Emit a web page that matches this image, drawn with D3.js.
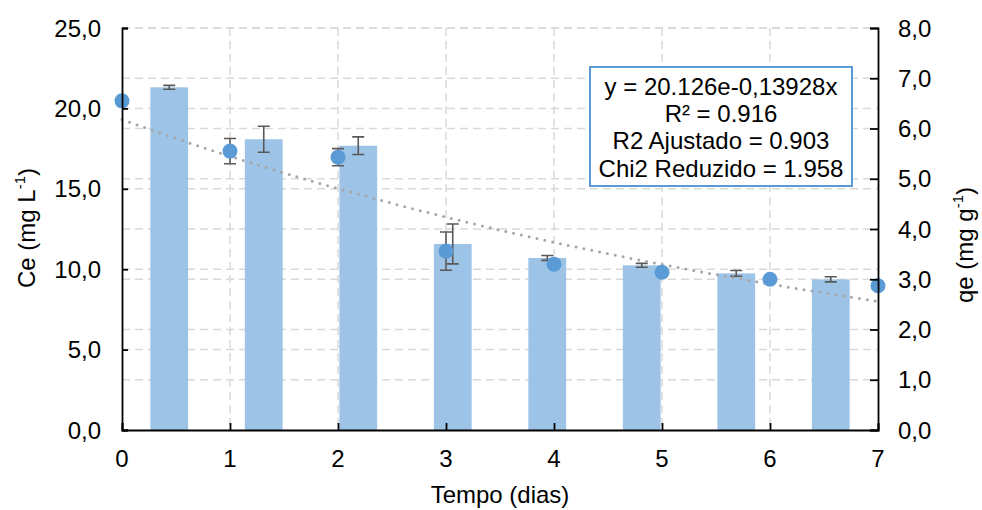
<!DOCTYPE html>
<html lang="pt">
  <head>
    <meta charset="utf-8">
    <title>Ce e qe vs tempo</title>
    <style>
      body { margin: 0; background: #fff; }
      svg { display: block; font-family: "Liberation Sans", Arial, sans-serif; }
    </style>
  </head>
  <body>
    <svg width="982" height="510"></svg>
    <script src="https://d3js.org/d3.v7.min.js"></script>
    <script>
      // data
      const dias = [0, 1, 2, 3, 4, 5, 6, 7];
      const qe = [6.55, 5.55, 5.43, 3.56, 3.30, 3.14, 3.00, 2.87];
      const qeErr = [0, 0.25, 0.17, 0.38, 0, 0, 0, 0];
      const ce = [21.31, 18.08, 17.68, 11.57, 10.70, 10.24, 9.74, 9.37];
      const ceErr = [0.12, 0.81, 0.55, 1.24, 0.15, 0.12, 0.18, 0.16];
      const ceTicks = [0, 5, 10, 15, 20, 25];
      const qeTicks = [0, 1, 2, 3, 4, 5, 6, 7, 8];
      const boxLines = ["y = 20.126e-0,13928x", "R² = 0.916", "R2 Ajustado = 0.903", "Chi2 Reduzido = 1.958"];

      const width = 982, height = 510;
      const margin = {top: 28, right: 104, bottom: 80, left: 122};
      const fs = 24;
      const fmt = d => d3.format(".1f")(d).replace(".", ",");

      const svg = d3.select("svg");

      const x = d3.scaleLinear().domain([0, 7]).range([margin.left, width - margin.right]);
      const xBand = d3.scaleBand().domain(d3.range(ce.length))
          .range([margin.left, width - margin.right])
          .paddingInner(0.6).paddingOuter(0.3);
      const yCe = d3.scaleLinear().domain([0, 25]).range([height - margin.bottom, margin.top]);
      const yQe = d3.scaleLinear().domain([0, 8]).range([height - margin.bottom, margin.top]);

      // gridlines
      const grid = svg.append("g")
          .attr("stroke", "#d9d9d9")
          .attr("stroke-width", 1.5)
          .attr("stroke-dasharray", "8,5");
      grid.selectAll(".gce").data(ceTicks.slice(1)).join("line")
          .attr("x1", margin.left).attr("x2", width - margin.right)
          .attr("y1", d => yCe(d)).attr("y2", d => yCe(d));
      grid.selectAll(".gqe").data(qeTicks.slice(1)).join("line")
          .attr("x1", margin.left).attr("x2", width - margin.right)
          .attr("y1", d => yQe(d)).attr("y2", d => yQe(d));
      grid.selectAll(".gx").data(dias.slice(1, -1)).join("line")
          .attr("x1", d => x(d)).attr("x2", d => x(d))
          .attr("y1", margin.top).attr("y2", height - margin.bottom);

      // bars (Ce)
      svg.append("g").selectAll("rect").data(ce).join("rect")
          .attr("x", (d, i) => xBand(i))
          .attr("width", xBand.bandwidth())
          .attr("y", d => yCe(d))
          .attr("height", d => yCe(0) - yCe(d))
          .attr("fill", "#9dc3e6");

      // error bars
      const err = svg.append("g").attr("stroke", "#595959").attr("stroke-width", 1.6).attr("fill", "none");
      function errBar(cx, lo, hi) {
        err.append("path")
            .attr("d", `M${cx - 6},${lo}H${cx + 6}M${cx},${lo}V${hi}M${cx - 6},${hi}H${cx + 6}`);
      }
      ce.forEach((d, i) => {
        const cx = xBand(i) + xBand.bandwidth() / 2;
        errBar(cx, yCe(d - ceErr[i]), yCe(d + ceErr[i]));
      });
      qe.forEach((d, i) => {
        if (qeErr[i] > 0) errBar(x(dias[i]), yQe(d - qeErr[i]), yQe(d + qeErr[i]));
      });

      // exponential trendline fitted to qe (least squares on ln qe)
      const lnq = qe.map(Math.log);
      const mx = d3.mean(dias), my = d3.mean(lnq);
      const slope = d3.sum(dias, (d, i) => (d - mx) * (lnq[i] - my)) / d3.sum(dias, d => (d - mx) ** 2);
      const a = Math.exp(my - slope * mx);
      const trendX = d3.range(0, 7.001, 0.05);
      svg.append("path")
          .datum(trendX)
          .attr("fill", "none")
          .attr("stroke", "#a6a6a6")
          .attr("stroke-width", 3)
          .attr("stroke-linecap", "round")
          .attr("stroke-dasharray", "0,8")
          .attr("d", d3.line().x(d => x(d)).y(d => yQe(a * Math.exp(slope * d))));

      // points (qe)
      svg.append("g").selectAll("circle").data(qe).join("circle")
          .attr("cx", (d, i) => x(dias[i]))
          .attr("cy", d => yQe(d))
          .attr("r", 7.5)
          .attr("fill", "#5b9bd5");

      // axes
      const axisLeft = svg.append("g")
          .attr("transform", `translate(${margin.left},0)`)
          .call(d3.axisRight(yCe).tickValues(ceTicks).tickSize(6).tickFormat(""));
      const axisRight = svg.append("g")
          .attr("transform", `translate(${width - margin.right},0)`)
          .call(d3.axisLeft(yQe).tickValues(qeTicks).tickSize(8).tickFormat(""));
      const axisBottom = svg.append("g")
          .attr("transform", `translate(0,${height - margin.bottom})`)
          .call(d3.axisTop(x).tickValues(dias).tickSize(7).tickFormat(""));
      [axisLeft, axisRight, axisBottom].forEach(g => {
        g.select(".domain").attr("stroke", "#000").attr("stroke-width", 1.8);
        g.selectAll(".tick line").attr("stroke", "#000").attr("stroke-width", 1.8);
      });

      // tick labels
      const lab = svg.append("g").attr("font-size", fs).attr("fill", "#000");
      lab.selectAll(".lce").data(ceTicks).join("text")
          .attr("x", 101).attr("y", d => yCe(d) + 8.5)
          .attr("text-anchor", "end").text(fmt);
      lab.selectAll(".lqe").data(qeTicks).join("text")
          .attr("x", 898).attr("y", d => yQe(d) + 8.5)
          .text(fmt);
      lab.selectAll(".lx").data(dias).join("text")
          .attr("x", d => x(d)).attr("y", 467)
          .attr("text-anchor", "middle").text(d => d);

      // axis titles
      const t1 = lab.append("text")
          .attr("transform", "translate(35,228) rotate(-90)")
          .attr("text-anchor", "middle");
      t1.append("tspan").text("Ce (mg L");
      t1.append("tspan").attr("font-size", 15).attr("dy", -10).text("-1");
      t1.append("tspan").attr("dy", 10).text(")");
      const t2 = lab.append("text")
          .attr("transform", "translate(973,245) rotate(-90)")
          .attr("text-anchor", "middle");
      t2.append("tspan").text("qe (mg g");
      t2.append("tspan").attr("font-size", 15).attr("dy", -10).text("-1");
      t2.append("tspan").attr("dy", 10).text(")");
      lab.append("text")
          .attr("x", 500).attr("y", 503)
          .attr("text-anchor", "middle")
          .text("Tempo (dias)");

      // fit statistics box
      const box = svg.append("g");
      box.append("rect")
          .attr("x", 590).attr("y", 67).attr("width", 262).attr("height", 119)
          .attr("fill", "#fff").attr("stroke", "#5b9bd5").attr("stroke-width", 2);
      box.selectAll("text").data(boxLines).join("text")
          .attr("x", 721).attr("y", (d, i) => 95 + i * 27.2)
          .attr("text-anchor", "middle")
          .attr("font-size", fs)
          .text(d => d);
    </script>
  </body>
</html>
